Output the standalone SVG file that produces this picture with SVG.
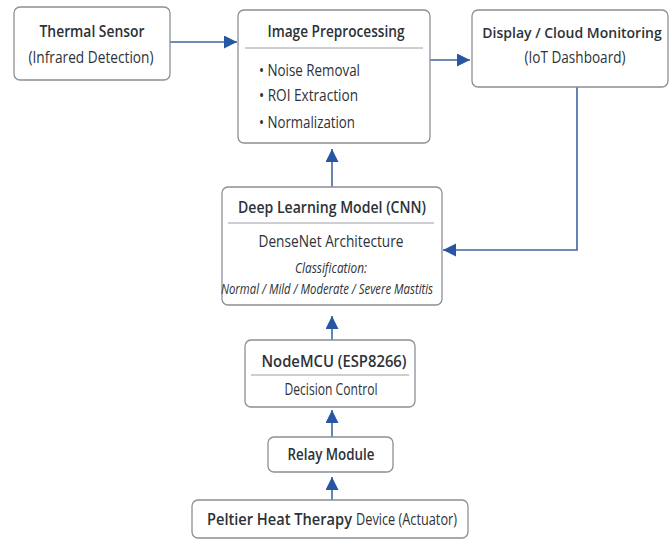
<svg xmlns="http://www.w3.org/2000/svg" width="669" height="539" viewBox="0 0 669 539">
<defs>
<marker id="ah" markerUnits="userSpaceOnUse" markerWidth="14" markerHeight="14" refX="13" refY="6.5" orient="auto">
<path d="M0,0 L13,6.5 L0,13 z" fill="#2757a3"/>
</marker>
</defs>
<style>
.box{fill:#ffffff;stroke:#8b9097;stroke-width:1.3}
.div{stroke:#9a9ea4;stroke-width:1}
.t{font-family:"Open Sans","Noto Sans",sans-serif;fill:#2d3238;text-anchor:middle}
.s{font-family:"Open Sans","Noto Sans",sans-serif;fill:#2d3238;text-anchor:start;font-size:16px}
.b{font-weight:600;font-size:16.5px}
.n{font-weight:400;font-size:15.5px}
.i{font-style:italic;font-size:15px}
.l{font-family:"Open Sans","Noto Sans",sans-serif;fill:#2d3238;font-size:15.5px}
.c{fill:none;stroke:#3f65a3;stroke-width:1.6;marker-end:url(#ah)}
</style>
<rect width="669" height="539" fill="#ffffff"/>
<g id="connectors">
<path class="c" d="M170,42 H237"/>
<path class="c" d="M430,60 H470"/>
<path class="c" d="M577,87 V250 H443"/>
<path class="c" d="M332,187 V149"/>
<path class="c" d="M332,340 V316"/>
<path class="c" d="M332,437 V410"/>
<path class="c" d="M332,500 V477"/>
</g>
<g id="thermal">
<rect class="box" x="14" y="7" width="156" height="73" rx="6"/>
<text class="t b" x="92" y="37" textLength="105" lengthAdjust="spacingAndGlyphs">Thermal Sensor</text>
<text class="t n" x="91" y="63" textLength="125" lengthAdjust="spacingAndGlyphs">(Infrared Detection)</text>
</g>
<g id="preprocessing">
<rect class="box" x="238" y="10" width="192" height="133" rx="6"/>
<text class="t b" x="336" y="37" textLength="137" lengthAdjust="spacingAndGlyphs">Image Preprocessing</text>
<line class="div" x1="245" y1="48" x2="423" y2="48"/>
<text class="l" x="259" y="76" textLength="101" lengthAdjust="spacingAndGlyphs">• Noise Removal</text>
<text class="l" x="259" y="101" textLength="99" lengthAdjust="spacingAndGlyphs">• ROI Extraction</text>
<text class="l" x="259" y="128" textLength="96" lengthAdjust="spacingAndGlyphs">• Normalization</text>
</g>
<g id="display">
<rect class="box" x="472" y="10" width="196" height="77" rx="6"/>
<text class="t" x="572" y="38" font-weight="600" font-size="14px">Display / Cloud Monitoring</text>
<text class="t n" x="575" y="63" textLength="101" lengthAdjust="spacingAndGlyphs">(IoT Dashboard)</text>
</g>
<g id="dlmodel">
<rect class="box" x="222" y="187" width="220" height="118" rx="6"/>
<text class="t b" x="332" y="213" textLength="188" lengthAdjust="spacingAndGlyphs">Deep Learning Model (CNN)</text>
<line class="div" x1="228" y1="223" x2="434" y2="223"/>
<text class="t n" x="331" y="247" textLength="145" lengthAdjust="spacingAndGlyphs">DenseNet Architecture</text>
<text class="t i" x="331" y="273" textLength="72" lengthAdjust="spacingAndGlyphs">Classification:</text>
<text class="t i" x="327" y="294" font-size="13px" textLength="212" lengthAdjust="spacingAndGlyphs">Normal / Mild / Moderate / Severe Mastitis</text>
</g>
<g id="nodemcu">
<rect class="box" x="245" y="340" width="170" height="67" rx="6"/>
<text class="t b" x="334" y="367" textLength="145" lengthAdjust="spacingAndGlyphs">NodeMCU (ESP8266)</text>
<line class="div" x1="251" y1="375" x2="409" y2="375"/>
<text class="t n" x="331" y="395" textLength="93" lengthAdjust="spacingAndGlyphs">Decision Control</text>
</g>
<g id="relay">
<rect class="box" x="268" y="437" width="125" height="35" rx="6"/>
<text class="t b" x="331" y="460" textLength="87" lengthAdjust="spacingAndGlyphs">Relay Module</text>
</g>
<g id="peltier">
<rect class="box" x="192" y="500" width="276" height="38" rx="6"/>
<text class="s" x="207" y="525" font-weight="600" textLength="145" lengthAdjust="spacingAndGlyphs">Peltier Heat Therapy</text>
<text class="s" x="356" y="525" textLength="101" lengthAdjust="spacingAndGlyphs">Device (Actuator)</text>
</g>
</svg>
